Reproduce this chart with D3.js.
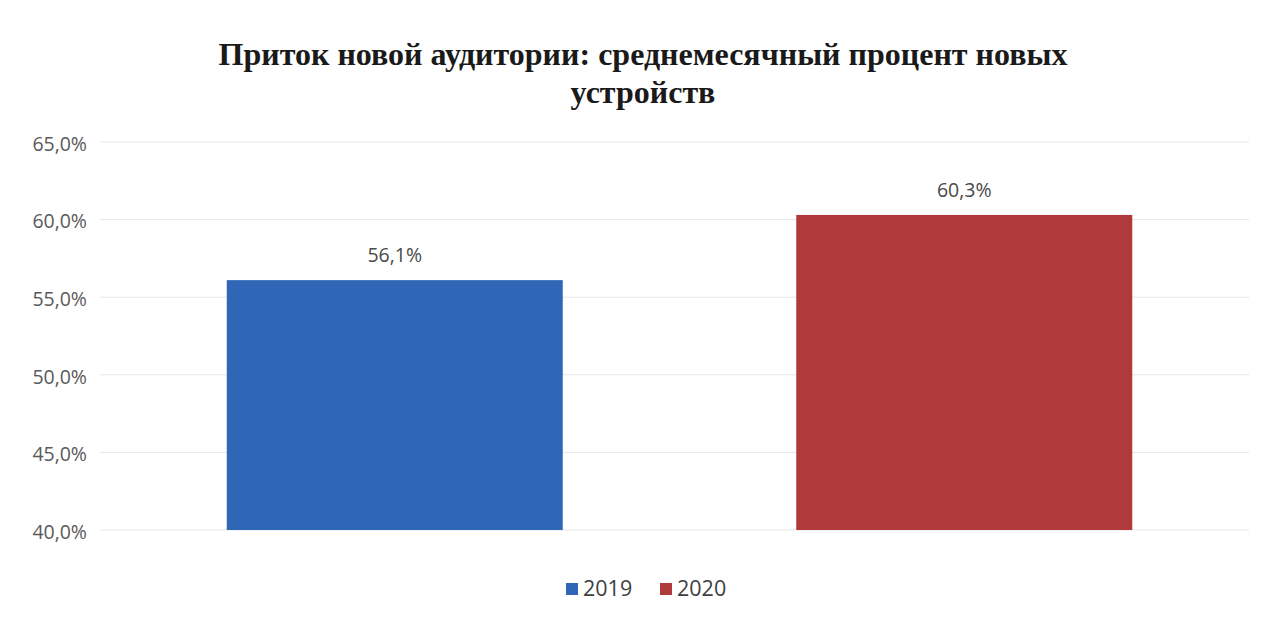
<!DOCTYPE html>
<html><head><meta charset="utf-8">
<script src="https://cdn.jsdelivr.net/npm/d3@7"></script>
<style>body{margin:0;background:#fff}svg{display:block}</style>
</head><body>
<svg id="c" width="1266" height="619"></svg>
<script>
const categories = ["2019", "2020"];
const values = [56.1, 60.3];
const colors = ["#2f66b6", "#b0393c"];
const yTicks = [40, 45, 50, 55, 60, 65];
const titleLines = ["Приток новой аудитории: среднемесячный процент новых", "устройств"];

const svg = d3.select("#c");
const fmt = v => d3.format(".1f")(v).replace(".", ",") + "%";

const x = d3.scaleBand().domain(categories).range([110, 1249]).paddingInner(0.41).paddingOuter(0.205);
const y = d3.scaleLinear().domain([40, 65]).range([530, 142]);

// gridlines
svg.append("g").selectAll("line").data(yTicks).join("line")
  .attr("x1", 100).attr("x2", 1249)
  .attr("y1", d => y(d)).attr("y2", d => y(d))
  .attr("stroke", "#e6e6e6").attr("stroke-width", 1);

// y axis
const yAxis = d3.axisLeft(y).tickValues(yTicks).tickFormat(fmt).tickSize(0).tickPadding(0);
const ga = svg.append("g").attr("transform", "translate(87,2)").call(yAxis);
ga.select(".domain").remove();
ga.selectAll("text").attr("font-family", "'Open Sans', sans-serif").attr("font-size", 19.5).attr("fill", "#5a5a5a");

// bars
svg.append("g").selectAll("rect").data(values).join("rect")
  .attr("x", (d, i) => x(categories[i]))
  .attr("width", x.bandwidth())
  .attr("y", d => y(d))
  .attr("height", d => y(40) - y(d))
  .attr("fill", (d, i) => colors[i]);

// value labels
svg.append("g").selectAll("text").data(values).join("text")
  .attr("x", (d, i) => x(categories[i]) + x.bandwidth() / 2)
  .attr("y", d => y(d) - 18)
  .attr("text-anchor", "middle")
  .attr("font-family", "'Open Sans', sans-serif").attr("font-size", 19.5).attr("fill", "#4a4a4a")
  .text(d => fmt(d));

// title
svg.append("g").selectAll("text").data(titleLines).join("text")
  .attr("x", 643).attr("y", (d, i) => 65 + i * 38)
  .attr("text-anchor", "middle")
  .attr("font-family", "'Liberation Serif', serif").attr("font-weight", "bold").attr("font-size", 32).attr("fill", "#1a1a1a")
  .text(d => d);

// legend
const lg = svg.append("g").attr("font-family", "'Open Sans', sans-serif").attr("font-size", 21.5).attr("fill", "#404040");
const legendX = [566, 660];
categories.forEach((c, i) => {
  lg.append("rect").attr("x", legendX[i]).attr("y", 583).attr("width", 12).attr("height", 12).attr("fill", colors[i]);
  lg.append("text").attr("x", legendX[i] + 17).attr("y", 596).text(c);
});
</script>
</body></html>
